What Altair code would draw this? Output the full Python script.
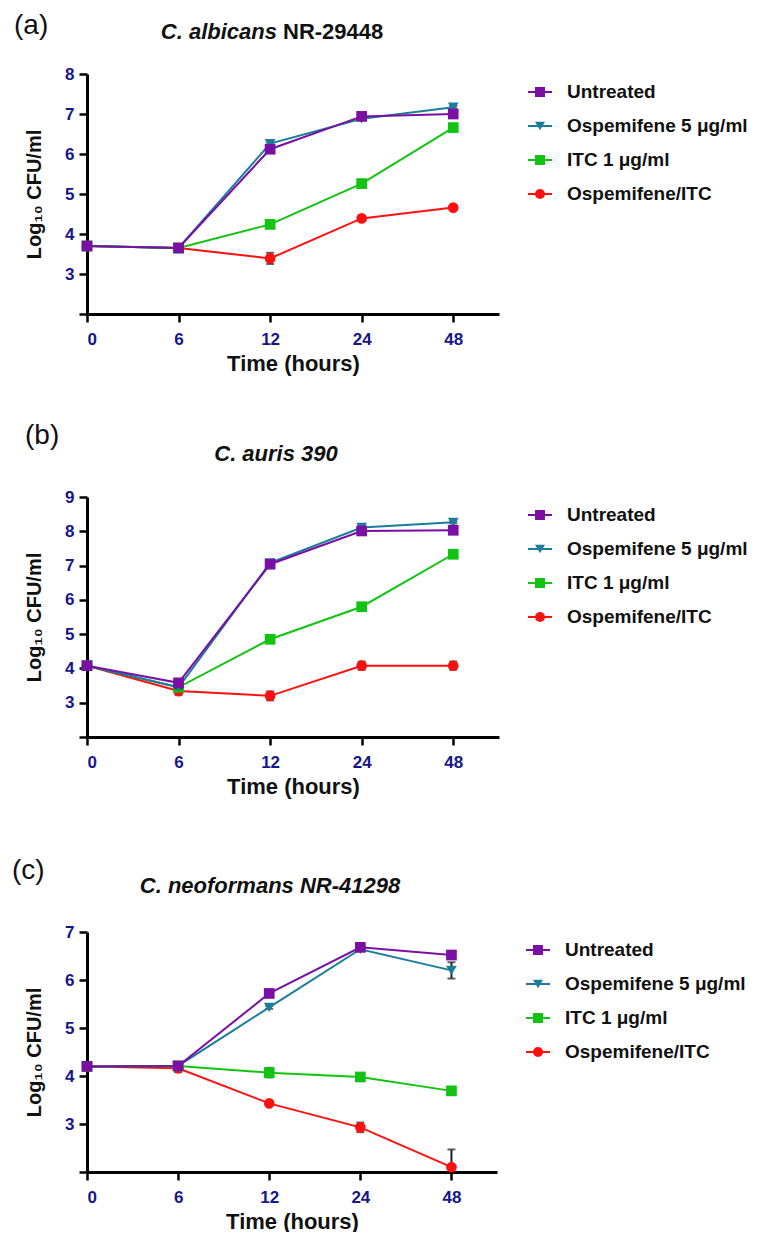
import altair as alt
import pandas as pd

times = [0, 6, 12, 24, 48]
series = ["Untreated", "Ospemifene 5 μg/ml", "ITC 1 μg/ml", "Ospemifene/ITC"]
colors = ["#7A0FA3", "#1A7E9B", "#12C312", "#FF1010"]
shapes = ["square", "triangle-down", "square", "circle"]

# Panel (a) C. albicans NR-29448
a_untreated = [3.70, 3.65, 6.12, 6.94, 7.00]
a_ospemifene = [3.70, 3.65, 6.26, 6.88, 7.17]
a_itc = [3.70, 3.65, 4.24, 5.26, 6.66]
a_combo = [3.70, 3.65, 3.39, 4.39, 4.66]
a_sd_untreated = [0.02, 0.02, 0.03, 0.03, 0.03]
a_sd_ospemifene = [0.02, 0.02, 0.03, 0.03, 0.03]
a_sd_itc = [0.02, 0.02, 0.03, 0.03, 0.03]
a_sd_combo = [0.02, 0.03, 0.14, 0.03, 0.03]

# Panel (b) C. auris 390
b_untreated = [4.08, 3.58, 7.04, 8.01, 8.03]
b_ospemifene = [4.08, 3.45, 7.08, 8.11, 8.26]
b_itc = [4.08, 3.45, 4.85, 5.80, 7.33]
b_combo = [4.08, 3.34, 3.20, 4.08, 4.08]
b_sd_untreated = [0.03, 0.04, 0.03, 0.03, 0.03]
b_sd_ospemifene = [0.03, 0.04, 0.03, 0.03, 0.03]
b_sd_itc = [0.03, 0.04, 0.03, 0.03, 0.03]
b_sd_combo = [0.03, 0.12, 0.13, 0.12, 0.12]

# Panel (c) C. neoformans NR-41298
c_untreated = [4.20, 4.21, 5.72, 6.68, 6.52]
c_ospemifene = [4.20, 4.21, 5.43, 6.64, 6.20]
c_itc = [4.20, 4.21, 4.07, 3.98, 3.69]
c_combo = [4.20, 4.16, 3.43, 2.93, 2.10]
c_sd_untreated = [0.02, 0.03, 0.03, 0.03, 0.03]
c_sd_ospemifene = [0.02, 0.03, 0.03, 0.03, 0.17]
c_sd_itc = [0.02, 0.08, 0.10, 0.03, 0.03]
c_sd_combo = [0.02, 0.08, 0.03, 0.10, 0.37]

FONT = "Liberation Sans"
LABEL_COLOR = "#16168C"

color_scale = alt.Scale(domain=series, range=colors)
shape_scale = alt.Scale(domain=series, range=shapes)


def build_df(vals, sds):
    rows = []
    for s, v, sd in zip(series, vals, sds):
        for i, t in enumerate(times):
            rows.append({"pos": i, "time": t, "series": s, "value": v[i],
                         "lo": v[i] - sd[i], "hi": v[i] + sd[i]})
    return pd.DataFrame(rows)


def text_layer(label, x, y, size, weight="normal", style="normal", align="left", font=FONT):
    return alt.Chart(pd.DataFrame({"t": [label]})).mark_text(
        align=align, baseline="middle", font=font, fontSize=size,
        fontWeight=weight, fontStyle=style, color="#111111"
    ).encode(text="t:N", x=alt.value(x), y=alt.value(y))


def panel(vals, sds, ymax, width, tag, tag_x, tag_y, titles):
    df = build_df(vals, sds)
    xaxis = alt.Axis(values=list(range(len(times))),
                     labelExpr="'' + " + str(times) + "[datum.value]",
                     title="Time (hours)", titleFontSize=22, titlePadding=6,
                     labelPadding=9, tickSize=8)
    yaxis = alt.Axis(values=list(range(2, ymax + 1)),
                     labelExpr="datum.value == 2 ? '' : datum.label",
                     title="Log₁₀ CFU/ml", titleFontSize=20, titlePadding=20,
                     labelPadding=5, tickSize=8)
    ysc = alt.Scale(domain=[2, ymax], nice=False, zero=False)
    x = alt.X("pos:Q", scale=alt.Scale(domain=[0, 4.5], nice=False, zero=False), axis=xaxis)
    y = alt.Y("value:Q", scale=ysc, axis=yaxis)
    color = alt.Color("series:N", scale=color_scale, legend=None)
    shape = alt.Shape("series:N", scale=shape_scale, legend=None)
    layers = []
    for s in reversed(series):
        base = alt.Chart(df).transform_filter(alt.datum.series == s)
        err = base.mark_rule(color="#222222", strokeWidth=2, clip=True).encode(
            x=x, y=alt.Y("lo:Q", scale=ysc, axis=yaxis), y2="hi:Q")
        cap_lo = base.mark_tick(color="#222222", orient="horizontal", size=8, thickness=2, clip=True).encode(
            x=x, y=alt.Y("lo:Q", scale=ysc, axis=yaxis))
        cap_hi = base.mark_tick(color="#222222", orient="horizontal", size=8, thickness=2, clip=True).encode(
            x=x, y=alt.Y("hi:Q", scale=ysc, axis=yaxis))
        line = base.mark_line(strokeWidth=2).encode(x=x, y=y, color=color)
        pts = base.mark_point(filled=True, size=115, opacity=1).encode(x=x, y=y, color=color, shape=shape)
        layers += [err, cap_lo, cap_hi, line, pts]
    layers.append(text_layer(tag, tag_x, tag_y, 28))
    for (txt, tx, ty, style, align) in titles:
        layers.append(text_layer(txt, tx, ty, 22, weight="bold", style=style, align=align))
    return alt.layer(*layers).properties(width=width, height=240)


def legend_chart():
    ldf = pd.DataFrame({"series": series, "item": list(range(len(series)))})
    y = alt.Y("item:Q", scale=alt.Scale(domain=[0, len(series) - 1], range=[18, 120], nice=False, zero=False), axis=None)
    color = alt.Color("series:N", scale=color_scale, legend=None)
    shape = alt.Shape("series:N", scale=shape_scale, legend=None)
    rule = alt.Chart(ldf).mark_rule(strokeWidth=2).encode(
        x=alt.value(0), x2=alt.value(24), y=y, color=color)
    pts = alt.Chart(ldf).mark_point(filled=True, size=100, opacity=1).encode(
        x=alt.value(12), y=y, color=color, shape=shape)
    txt = alt.Chart(ldf).mark_text(align="left", baseline="middle", font=FONT, fontSize=19,
                                   fontWeight="bold", color="#111111").encode(
        x=alt.value(39), y=y, text="series:N")
    return alt.layer(rule, pts, txt).properties(width=180, height=240)


pa = panel([a_untreated, a_ospemifene, a_itc, a_combo],
           [a_sd_untreated, a_sd_ospemifene, a_sd_itc, a_sd_combo],
           8, 412, "(a)", -73, -48,
           [("C. albicans", 190, -42, "italic", "right"),
            ("NR-29448", 196, -42, "normal", "left")])
pb = panel([b_untreated, b_ospemifene, b_itc, b_combo],
           [b_sd_untreated, b_sd_ospemifene, b_sd_itc, b_sd_combo],
           9, 412, "(b)", -62, -61,
           [("C. auris 390", 189, -43, "italic", "center")])
pc = panel([c_untreated, c_ospemifene, c_itc, c_combo],
           [c_sd_untreated, c_sd_ospemifene, c_sd_itc, c_sd_combo],
           7, 410, "(c)", -75, -61,
           [("C. neoformans NR-41298", 183, -46, "italic", "center")])

row_a = alt.hconcat(pa, legend_chart(), spacing=28)
row_b = alt.hconcat(pb, legend_chart(), spacing=28)
row_c = alt.hconcat(pc, legend_chart(), spacing=28)

inner = alt.concat(row_a, row_b, columns=1, spacing=48, align="none")
chart = alt.concat(inner, row_c, columns=1, spacing=60, align="none").properties(
    padding={"left": 4, "top": 4, "right": 0, "bottom": 0}
).configure_view(stroke=None).configure_axis(
    grid=False, domainColor="black", domainWidth=3, tickColor="black", tickWidth=2.5,
    labelFont=FONT, labelFontWeight="bold", labelFontSize=17, labelColor=LABEL_COLOR,
    titleFont=FONT, titleFontWeight="bold", titleColor="#111111"
)

chart.save("out.html", embed_options={"renderer": "svg", "actions": False})
